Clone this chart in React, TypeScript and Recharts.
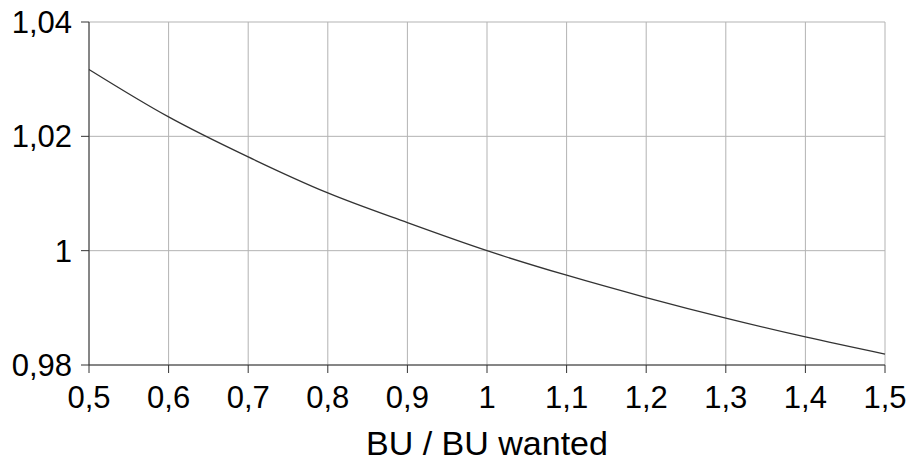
import React from "react";
import {
  LineChart,
  Line,
  XAxis,
  YAxis,
  CartesianGrid,
  Label,
} from "recharts";

// ratio BU / BU wanted
const ratios = [0.5, 0.6, 0.7, 0.8, 0.9, 1, 1.1, 1.2, 1.3, 1.4, 1.5];
// correction factor
const factors = [
  1.0317, 1.0234, 1.0164, 1.0101, 1.0049, 1.0, 0.9957, 0.9918, 0.9882,
  0.9849, 0.9819,
];

const xTicks = [0.5, 0.6, 0.7, 0.8, 0.9, 1, 1.1, 1.2, 1.3, 1.4, 1.5];
const yTicks = [0.98, 1, 1.02, 1.04];
const xTitle = "BU / BU wanted";

const data = ratios.map((x, i) => ({ x, y: factors[i] }));

const FONT = "'Liberation Sans', Arial, sans-serif";
const fmt = (v: number) => String(v).replace(".", ",");

export default function App() {
  return (
    <div
      style={{
        position: "fixed",
        top: 0,
        left: 0,
        width: 909,
        height: 459,
        background: "#fff",
        fontFamily: FONT,
      }}
    >
      <LineChart
        width={909}
        height={459}
        data={data}
        margin={{ top: 22, right: 24, bottom: 0, left: 0 }}
      >
        <CartesianGrid stroke="#b3b3b3" strokeWidth={1} />
        <XAxis
          dataKey="x"
          type="number"
          domain={[0.5, 1.5]}
          ticks={xTicks}
          tickFormatter={fmt}
          height={94}
          tickSize={8}
          tickMargin={13}
          stroke="#333"
          tick={{ fill: "#000", fontSize: 31, fontFamily: FONT }}
          interval={0}
        >
          <Label
            value={xTitle}
            position="insideBottom"
            offset={4}
            style={{ fill: "#000", fontSize: 34, fontFamily: FONT }}
          />
        </XAxis>
        <YAxis
          type="number"
          domain={[0.98, 1.04]}
          ticks={yTicks}
          tickFormatter={fmt}
          width={89}
          tickSize={8}
          tickMargin={9}
          stroke="#333"
          tick={{ fill: "#000", fontSize: 31, fontFamily: FONT }}
          interval={0}
        />
        <Line
          type="monotone"
          dataKey="y"
          stroke="#333"
          strokeWidth={1.3}
          dot={false}
          isAnimationActive={false}
        />
      </LineChart>
    </div>
  );
}
